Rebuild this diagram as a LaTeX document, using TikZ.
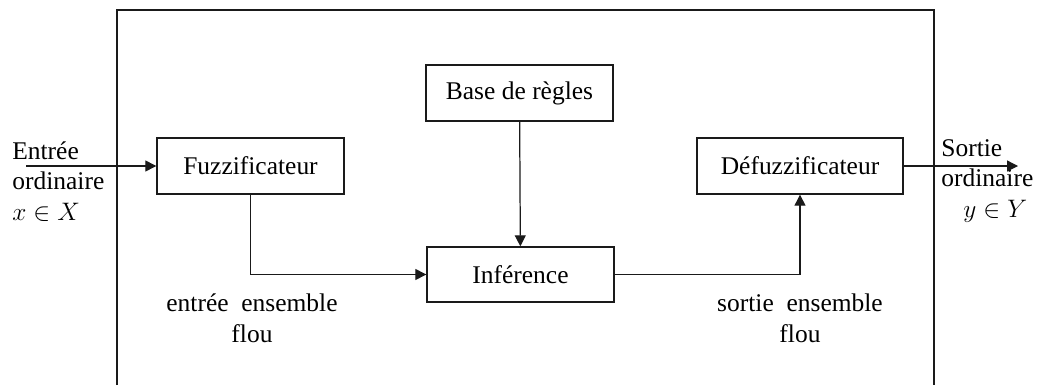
\documentclass[tikz,border=0pt]{standalone}
\usepackage{fontspec}
\setmainfont{Liberation Serif}
\usepackage{tikz}
\usetikzlibrary{arrows.meta,positioning,calc}
\definecolor{LineGray}{HTML}{1A1A1A}

\begin{document}
\begin{tikzpicture}[
  x=0.02cm, y=-0.02cm,
  font=\fontsize{14.5}{17.5}\selectfont,
  block/.style={draw=LineGray, line width=0.8pt, minimum height=1.12cm,
    minimum width=3.74cm, align=center, inner sep=2pt},
  flow/.style={-{Triangle[length=2.2mm,width=2.2mm]}, line width=0.7pt, draw=LineGray},
  plain/.style={line width=0.7pt, draw=LineGray},
  tag/.style={inner sep=0pt}
]
\useasboundingbox (0,0) rectangle (1040,385);
\draw[line width=1.1pt, draw=LineGray] (117,385) |- (934,10) -- (934,385);

\node[block] (fuzz) at (250.5,166) {Fuzzificateur};
\node[block] (base) at (519.5,93) {Base de règles};
\node[block, minimum height=1.1cm] (inf) at (520.5,274.5) {Inférence};
\node[block, minimum width=4.12cm] (defuzz) at (800,166) {Défuzzificateur};

\coordinate (in) at (26,166);
\coordinate (out) at (1018,166);

\node[tag, anchor=north west, align=left] (inlabel) at (12,141) {Entrée\\ordinaire\\$x\in X$};
\node[tag, anchor=north west, align=left] (outlabel) at (941,139) {Sortie\\ordinaire\\\hspace{0.44cm}$y\in Y$};
\node[tag, align=center] (fuzzyin) at (252,318) {entrée~~ensemble\\flou};
\node[tag, align=center] (fuzzyout) at (800,318) {sortie~~ensemble\\flou};

\draw[flow] (in) -- (fuzz);
\draw[flow] (fuzz.south) |- (inf.west);
\draw[flow] (base) -- (inf);
\draw[flow] (inf.east) -| (defuzz.south);
\draw[flow] (defuzz) -- (out);
\end{tikzpicture}
\end{document}
